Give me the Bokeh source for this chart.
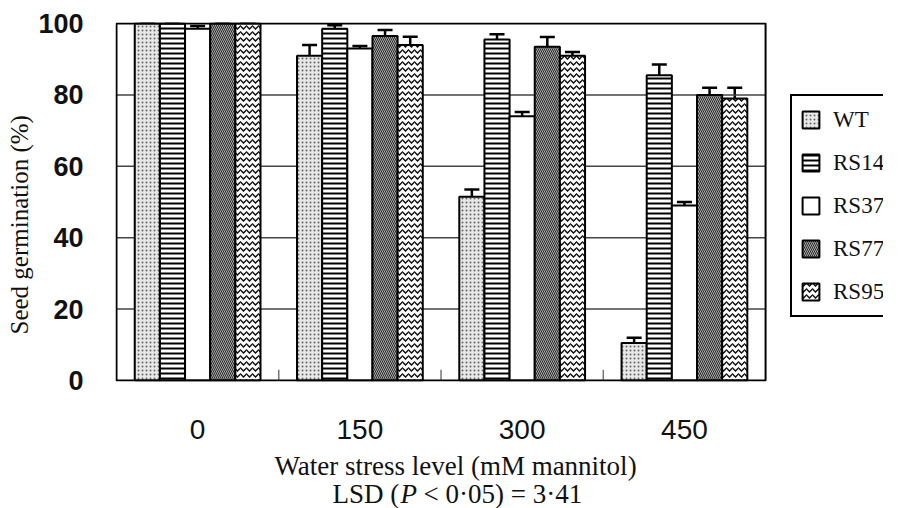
from bokeh.plotting import figure
from bokeh.layouts import column
from bokeh.models import (ColumnDataSource, Range1d, Whisker, TeeHead, Label,
                          Legend, LegendItem, FixedTicker, Title)
from bokeh.embed import file_html
from bokeh.resources import INLINE

# ---------------- data ----------------
groups = ["0", "150", "300", "450"]
series = ["WT", "RS14", "RS37", "RS77", "RS95"]
wt = [100, 91, 51.5, 10.5]
wt_err = [0, 3, 2, 1.5]
rs14 = [100, 98.5, 95.5, 85.5]
rs14_err = [0, 1, 1.5, 3]
rs37 = [98.5, 93, 74, 49]
rs37_err = [0.8, 0.7, 1.2, 1]
rs77 = [100, 96.5, 93.5, 80]
rs77_err = [0, 1.7, 2.7, 2]
rs95 = [100, 94, 91, 79]
rs95_err = [0, 2.3, 1, 3]
y_ticks = [0, 20, 40, 60, 80, 100]
x_title = "Water stress level (mM mannitol)"
y_title = "Seed germination (%)"

values = [wt, rs14, rs37, rs77, rs95]
errors = [wt_err, rs14_err, rs37_err, rs77_err, rs95_err]

styles = [
    dict(fill_color="#e8e8e8", hatch_pattern="dot", hatch_color="#666666", hatch_scale=4, hatch_weight=1.2),
    dict(fill_color="white", hatch_pattern="horizontal_line", hatch_color="black", hatch_scale=5, hatch_weight=2),
    dict(fill_color="white"),
    dict(fill_color="#a8a8a8", hatch_pattern="left_diagonal_line", hatch_color="#2a2a2a", hatch_scale=4, hatch_weight=1.0),
    dict(fill_color="white", hatch_pattern="horizontal_wave", hatch_color="#111111", hatch_scale=6, hatch_weight=1.5),
]

# ---------------- layout (pixels) ----------------
W = 883
H_MAIN = 450
H_TEXT = 58
LEFT = 108          # left border (axis labels + title)
TOP = 22
FRAME_H = 359
PX_X = 163.75       # pixels per group
PX_Y = 3.57         # pixels per percent
bar_w = 0.155

frame_w = W - LEFT
n_groups = len(groups)
x_range = Range1d(-1 / PX_X, (frame_w - 1) / PX_X)
y_range = Range1d(-1 / PX_Y, y_ticks[-1] + 1 / PX_Y)

p = figure(x_range=x_range, y_range=y_range, width=W, height=H_MAIN,
           min_border_left=LEFT, min_border_right=0, min_border_top=TOP,
           min_border_bottom=H_MAIN - TOP - FRAME_H,
           output_backend="svg", toolbar_location=None)
p.outline_line_color = None
p.background_fill_color = "white"
p.border_fill_color = "white"
p.xgrid.visible = False
p.ygrid.visible = False

# grid lines inside the plot box
inner = y_ticks[1:-1]
p.segment(x0=[0] * len(inner), x1=[n_groups] * len(inner), y0=inner, y1=inner,
          line_color="#444444", line_width=1.5)

centers = [i + 0.5 for i in range(n_groups)]
n = len(series)
items = []
for i, (name, vals, errs, st) in enumerate(zip(series, values, errors, styles)):
    off = (i - (n - 1) / 2) * bar_w
    src = ColumnDataSource(dict(x=[c + off for c in centers], top=vals,
                                upper=[v + e for v, e in zip(vals, errs)]))
    r = p.vbar(x="x", top="top", width=bar_w, source=src,
               line_color="black", line_width=2, **st)
    items.append(LegendItem(label=name, renderers=[r]))
    p.add_layout(Whisker(source=src, base="x", upper="upper", lower="top",
                         line_color="black", line_width=2.5,
                         upper_head=TeeHead(size=15, line_color="black", line_width=2.5),
                         lower_head=None))

# small separator ticks between the groups
sep = list(range(1, n_groups))
p.segment(x0=sep, x1=sep, y0=0, y1=3, line_color="#777777", line_width=1.5)

# plot box
p.quad(left=[0], right=[n_groups], bottom=[y_ticks[0]], top=[y_ticks[-1]],
       fill_color=None, line_color="black", line_width=2)

# axes
p.xaxis.ticker = FixedTicker(ticks=centers)
p.xaxis.major_label_overrides = {c: g for c, g in zip(centers, groups)}
p.yaxis.ticker = FixedTicker(ticks=y_ticks)

for ax in (p.xaxis, p.yaxis):
    ax.axis_line_color = None
    ax.major_tick_line_color = None
    ax.minor_tick_line_color = None
    ax.major_label_text_font = "Liberation Sans"
    ax.major_label_text_color = "#111111"

p.yaxis.major_label_text_font_size = "27px"
p.yaxis.major_label_text_font_style = "bold"
p.xaxis.major_label_text_font_size = "28px"
p.xaxis.major_label_text_font_style = "normal"
p.yaxis.major_label_standoff = 26
p.xaxis.major_label_standoff = 32

p.add_layout(Title(text=y_title, align="left", offset=47, standoff=6,
                   text_font="Liberation Serif", text_font_size="25px",
                   text_font_style="normal", text_color="#111111"), "left")

# legend (inside the wide frame, to the right of the plot box)
lg = Legend(items=items, location=(675, 64), margin=0,
            border_line_color="black", border_line_width=2, border_line_alpha=1,
            background_fill_color="white", background_fill_alpha=1,
            padding=8, spacing=12, glyph_width=21, glyph_height=21,
            label_height=31, label_standoff=12,
            label_text_font="Liberation Serif", label_text_font_size="23px",
            label_text_color="#111111")
p.add_layout(lg)

# bottom titles in a small text-only figure (its frame is aligned with the plot's)
p2 = figure(width=W, height=H_TEXT, min_border=0, x_axis_type=None, y_axis_type=None,
            x_range=(0, 1), y_range=(0, 1),
            output_backend="svg", toolbar_location=None)
p2.outline_line_color = None
p2.background_fill_color = "white"
p2.border_fill_color = "white"

common = dict(x_units="screen", y_units="screen", text_font="Liberation Serif",
              text_font_size="27px", text_color="#111111", text_baseline="alphabetic")
p2.add_layout(Label(x=340, y=43, text=x_title, text_align="center", **common))
p2.add_layout(Label(x=217, y=15, text="LSD (", text_align="left", **common))
p2.add_layout(Label(x=285, y=15, text="P", text_align="left", text_font_style="italic", **common))
p2.add_layout(Label(x=308, y=15, text="< 0\u00b705) = 3\u00b741", text_align="left", **common))

open("out.html", "w").write(file_html(column(p, p2), INLINE))
